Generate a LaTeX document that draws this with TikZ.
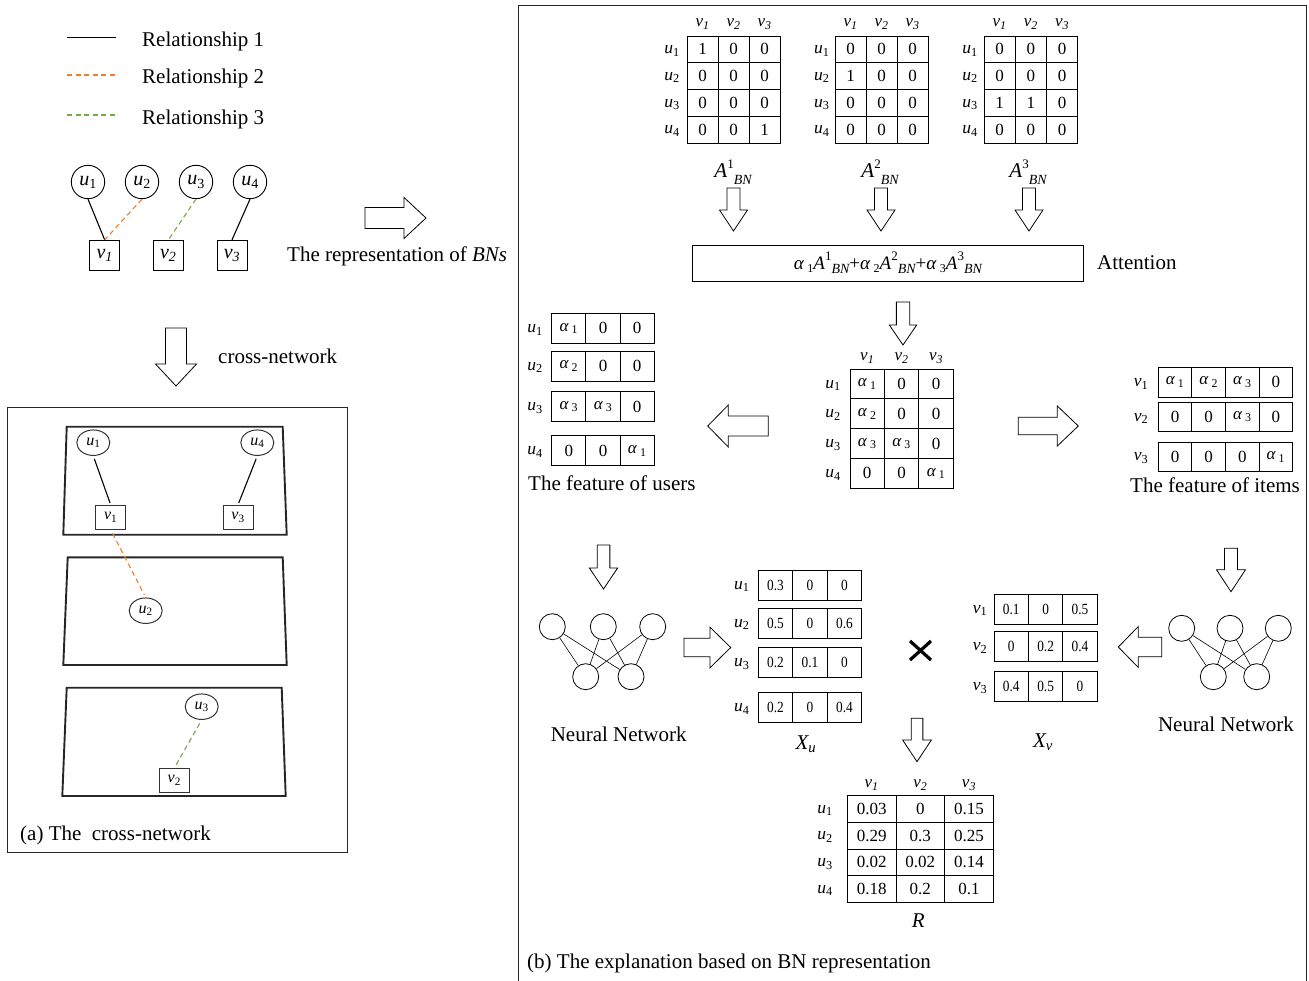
\documentclass[tikz,border=0pt]{standalone}
\usepackage{fontspec}
\setmainfont{Liberation Serif}
\newfontfamily\narrowrm[FakeStretch=0.86]{Liberation Serif}
\usetikzlibrary{shapes.geometric}

\definecolor{relorange}{HTML}{ED7D31}
\definecolor{relgreen}{HTML}{70AD47}

\newcommand{\fs}[1]{\fontsize{#1}{#1}\selectfont}
\newcommand{\ulab}[1]{\textit{u}\textsubscript{#1}}
\newcommand{\vlab}[1]{\textit{v}\textsubscript{#1}}
\newcommand{\vlabit}[1]{\textit{v\textsubscript{#1}}}
\newcommand{\al}[1]{\textit{α}\,\textsubscript{#1}}
\newcommand{\Abn}[1]{\textit{A}\raisebox{0.45em}{\fs{13}#1}\raisebox{-0.3em}{\fs{14}\itshape BN}}
\newcommand{\aterm}[1]{\textit{α}\,\raisebox{-0.2em}{\fs{12}#1}\textit{A}\raisebox{0.45em}{\fs{13}#1}\raisebox{-0.25em}{\fs{14}\itshape BN}}

% block arrow: tail x, tail y, angle, length, shaft width, head width, head length
\newcommand{\blockarrow}[7]{%
  \draw[blockarrow, shift={(#1,#2)}, rotate=#3]
    (0,{-#5/2}) -- ({#4-#7},{-#5/2}) -- ({#4-#7},{-#6/2}) -- (#4,0)
    -- ({#4-#7},{#6/2}) -- ({#4-#7},{#5/2}) -- (0,{#5/2}) -- cycle;}

% grid of cells: name, x0, y0, cell width, cell height, font, rows
\newcommand{\gridmat}[7]{%
  \foreach \rowlist [count=\ri] in {#7} {
    \foreach \val [count=\ci] in \rowlist {
      \node[cell, font=#6, minimum width=#4, minimum height=#5]
        (#1-\ri-\ci) at ({#2+(\ci-0.5)*#4},{#3+(\ri-0.5)*#5}) {\val};
    }
  }}
% one row of cells: name, x0, top y, cell width, cell height, font, entries
\newcommand{\featrow}[7]{%
  \foreach \val [count=\ci] in {#7}
    \node[cell, font=#6, minimum width=#4, minimum height=#5]
      (#1-\ci) at ({#2+(\ci-0.5)*#4},{#3+#5/2}) {\val};}
% column headers: name, x0, cell width, y, label command
\newcommand{\collabels}[5]{%
  \foreach \k in {1,2,3} \node[hdr] (#1-h\k) at ({#2+(\k-0.5)*#3},#4) {#5{\k}};}
% row labels: name, x, y0, cell height, count, label command
\newcommand{\rowlabels}[6]{%
  \foreach \k in {1,...,#5} \node[rowlab] (#1-r\k) at (#2,{#3+(\k-0.5)*#4+1.5}) {#6{\k}};}

\begin{document}
\begin{tikzpicture}[x=1pt,y=-1pt,
  lbl/.style={font=\fs{21}, inner sep=0},
  cell/.style={draw, line width=0.9pt, inner sep=0, anchor=center},
  hdr/.style={font=\fs{17}, inner sep=0},
  rowlab/.style={font=\fs{17.5}, inner sep=0},
  blockarrow/.style={draw, line width=0.8pt, fill=white, line join=miter},
  nn/.style={draw, circle, minimum size=26, inner sep=0, line width=0.8pt},
  ucirc/.style={draw, circle, minimum size=33.4, inner sep=0, line width=0.9pt, font=\fs{20}},
  vsq/.style={draw, rectangle, minimum size=30, inner sep=0, line width=0.9pt, font=\fs{20}},
  uell/.style={draw, ellipse, minimum width=33, minimum height=25.5, inner sep=0, line width=1pt, black!80, text=black, font=\fs{16}},
  vbox/.style={draw, rectangle, minimum width=30, minimum height=24, inner sep=0, line width=1pt, black!80, text=black, font=\fs{16}},
  panel/.style={line width=1.9pt, black!85},
  rel1/.style={line width=1.3pt},
  rel2/.style={relorange, line width=1.3pt, dash pattern=on 5pt off 3.5pt},
  rel3/.style={relgreen, line width=1.3pt, dash pattern=on 5pt off 3.5pt}]
\useasboundingbox (0,0) rectangle (1309,981);

% ---------------- legend ----------------
\coordinate (lg1a) at (67,37.5);  \coordinate (lg1b) at (116,37.5);
\coordinate (lg2a) at (67,75);    \coordinate (lg2b) at (116,75);
\coordinate (lg3a) at (67,115);   \coordinate (lg3b) at (116,115);
\draw[rel1] (lg1a) -- (lg1b);
\draw[rel2] (lg2a) -- (lg2b);
\draw[rel3] (lg3a) -- (lg3b);
\node[lbl, anchor=base west] (lgt1) at (142,47) {Relationship 1};
\node[lbl, anchor=base west] (lgt2) at (142,84) {Relationship 2};
\node[lbl, anchor=base west] (lgt3) at (142,125) {Relationship 3};

% ---------------- bipartite network ----------------
\node[ucirc] (gu1) at (88,182)  {\ulab{1}};
\node[ucirc] (gu2) at (142,182) {\ulab{2}};
\node[ucirc] (gu3) at (196,182) {\ulab{3}};
\node[ucirc] (gu4) at (250,182) {\ulab{4}};
\node[vsq] (gv1) at (104.7,255.3) {\vlabit{1}};
\node[vsq] (gv2) at (168.3,255.3) {\vlabit{2}};
\node[vsq] (gv3) at (232,255.3)   {\vlabit{3}};
\draw[rel1, line width=1.1pt] (gu1.south) -- (gv1.north);
\draw[rel2, line width=1.1pt] (gu2.south) -- (gv1.north);
\draw[rel3, line width=1.1pt] (gu3.south) -- (gv2.north);
\draw[rel1, line width=1.1pt] (gu4.south) -- (gv3.north);

\blockarrow{365}{218}{0}{61}{21}{41}{22}
\node[lbl, anchor=base west] (reptext) at (287,262) {The representation of \textit{BNs}};

\blockarrow{176}{328}{-90}{58}{21}{41}{22}
\node[lbl, anchor=base west] (crosstext) at (218,364) {cross-network};

% ---------------- (a) cross-network ----------------
\draw[line width=0.9pt, black!85] (7.3,407.3) rectangle (347.7,852.7);
\draw[panel] (66.7,426.7) -- (282.7,426.7) -- (286.7,534.7) -- (63.3,534.7) -- cycle;
\draw[panel] (67.7,557.3) -- (282.7,557.3) -- (286.7,665) -- (63.3,665) -- cycle;
\draw[panel] (66.7,687.7) -- (281.7,687.7) -- (285.7,796) -- (62.3,796) -- cycle;
\node[uell] (cu1) at (93.3,442.7)  {\ulab{1}};
\node[uell] (cu4) at (257.3,442.7) {\ulab{4}};
\node[vbox] (cv1) at (110.7,517.3) {\vlab{1}};
\node[vbox] (cv3) at (238,517.3)   {\vlab{3}};
\node[uell] (cu2) at (145.7,610.7) {\ulab{2}};
\node[uell] (cu3) at (201.7,706.7) {\ulab{3}};
\node[vbox] (cv2) at (174.3,780.5) {\vlab{2}};
\draw[rel1, line width=1.1pt, shorten <=3pt, shorten >=2pt] (cu1.south) -- (cv1.north);
\draw[rel1, line width=1.1pt, shorten <=3pt, shorten >=2pt] (cu4.south) -- (cv3.north);
\draw[rel2, line width=1.1pt, shorten <=4pt, shorten >=3pt] (cv1.south) -- (cu2.north);
\draw[rel3, line width=1.1pt, shorten <=4pt, shorten >=1pt] (cu3.south) -- (cv2.north);
\node[lbl, anchor=base west] (capa) at (20,840) {(a) The\ \ cross-network};

% ---------------- (b) explanation ----------------
\draw[line width=0.9pt, black!85] (518.3,995) -- (518.3,5) -- (1306.7,5) -- (1306.7,995);

% three relation matrices
\gridmat{ma}{687}{36}{31}{26.75}{\fs{17}}{{1,0,0},{0,0,0},{0,0,0},{0,0,1}}
\gridmat{mb}{835}{36}{31}{26.75}{\fs{17}}{{0,0,0},{1,0,0},{0,0,0},{0,0,0}}
\gridmat{mc}{984}{36}{31.2}{26.75}{\fs{17}}{{0,0,0},{0,0,0},{1,1,0},{0,0,0}}
\collabels{ma}{687}{31}{24}{\vlabit}
\collabels{mb}{835}{31}{24}{\vlabit}
\collabels{mc}{984}{31.2}{24}{\vlabit}
\rowlabels{ma}{672}{36}{26.75}{4}{\ulab}
\rowlabels{mb}{821.7}{36}{26.75}{4}{\ulab}
\rowlabels{mc}{970}{36}{26.75}{4}{\ulab}

\node[font=\fs{21}, inner sep=0] (aa) at (733,172) {\Abn{1}};
\node[font=\fs{21}, inner sep=0] (ab) at (880,172) {\Abn{2}};
\node[font=\fs{21}, inner sep=0] (ac) at (1028,172) {\Abn{3}};
\blockarrow{733.5}{188}{-90}{43}{13}{28}{21}
\blockarrow{881}{188}{-90}{43}{13}{28}{21}
\blockarrow{1029}{188}{-90}{43}{13}{28}{21}

\node[draw, line width=0.9pt, minimum width=390.3, minimum height=36, inner sep=0, font=\fs{19}]
  (attbox) at (887.9,263) {\aterm{1}+\aterm{2}+\aterm{3}};
\node[lbl, anchor=base west] (atttext) at (1097,270) {Attention};

\blockarrow{903}{302}{-90}{43}{13.3}{27.4}{20}

% fused matrix
\gridmat{mf}{850}{369}{34.4}{29.8}{\fs{17}}{{\al{1},0,0},{\al{2},0,0},{\al{3},\al{3},0},{0,0,\al{1}}}
\collabels{mf}{850}{34.4}{358}{\vlabit}
\rowlabels{mf}{833}{369}{29.8}{4}{\ulab}

% user features
\featrow{fu1}{551.7}{313.3}{34.2}{30}{\fs{17}}{\al{1},0,0}
\featrow{fu2}{551.7}{351}{34.2}{30}{\fs{17}}{\al{2},0,0}
\featrow{fu3}{551.7}{391.7}{34.2}{30}{\fs{17}}{\al{3},\al{3},0}
\featrow{fu4}{551.7}{435.7}{34.2}{30}{\fs{17}}{0,0,\al{1}}
\foreach \k/\yy in {1/329.8,2/367.5,3/408.2,4/452.2}
  \node[rowlab] (fu-r\k) at (535,\yy) {\ulab{\k}};
\blockarrow{768.3}{426}{180}{60.6}{20}{42}{20.6}
\node[lbl, anchor=base west] (fusertext) at (528,490) {The feature of users};

% item features
\blockarrow{1018.3}{426}{0}{60}{17.4}{40}{21}
\featrow{fv1}{1158.3}{367.5}{33.6}{29.5}{\fs{17}}{\al{1},\al{2},\al{3},0}
\featrow{fv2}{1158.3}{402}{33.6}{29.5}{\fs{17}}{0,0,\al{3},0}
\featrow{fv3}{1158.3}{442}{33.6}{29.5}{\fs{17}}{0,0,0,\al{1}}
\foreach \k/\yy in {1/383.8,2/418.3,3/458.3}
  \node[rowlab] (fv-r\k) at (1141,\yy) {\vlab{\k}};
\node[lbl, anchor=base west] (fitemtext) at (1130,492) {The feature of items};

% neural network for users
\blockarrow{603.5}{545}{-90}{44}{12.7}{28.3}{21}
\node[nn] (na1) at (552.3,626.7) {};
\node[nn] (na2) at (603.3,626.7) {};
\node[nn] (na3) at (652.7,626.7) {};
\node[nn] (nb1) at (585.7,676.7) {};
\node[nn] (nb2) at (631,676.7) {};
\foreach \a in {na1,na2,na3} \foreach \b in {nb1,nb2} \draw[line width=0.6pt] (\a) -- (\b);
\node[lbl, anchor=base] (nntext1) at (618.7,741.7) {Neural Network};
\blockarrow{684}{647.5}{0}{46.7}{18.4}{40.6}{20.7}

% user embeddings
\featrow{xu1}{758.3}{570}{34.5}{30}{\narrowrm\fs{15.5}}{0.3,0,0}
\featrow{xu2}{758.3}{608}{34.5}{30}{\narrowrm\fs{15.5}}{0.5,0,0.6}
\featrow{xu3}{758.3}{647.7}{34.5}{30}{\narrowrm\fs{15.5}}{0.2,0.1,0}
\featrow{xu4}{758.3}{692.3}{34.5}{30}{\narrowrm\fs{15.5}}{0.2,0,0.4}
\foreach \k/\yy in {1/586.5,2/624.5,3/664.2,4/708.8}
  \node[rowlab] (xu-r\k) at (741.7,\yy) {\ulab{\k}};
\node[font=\fs{21}, inner sep=0] (xulab) at (806,744) {\textit{X\textsubscript{u}}};

% product sign
\draw[line width=3.2pt] (910,641) -- (931,660) (910,660) -- (931,641);

% item embeddings
\featrow{xv1}{994}{594}{34.4}{30}{\narrowrm\fs{15.5}}{0.1,0,0.5}
\featrow{xv2}{994}{631.7}{34.4}{30}{\narrowrm\fs{15.5}}{0,0.2,0.4}
\featrow{xv3}{994}{671.7}{34.4}{30}{\narrowrm\fs{15.5}}{0.4,0.5,0}
\foreach \k/\yy in {1/610.5,2/648.2,3/688.2}
  \node[rowlab] (xv-r\k) at (980,\yy) {\vlab{\k}};
\node[font=\fs{21}, inner sep=0] (xvlab) at (1043,742) {\textit{X\textsubscript{v}}};

% neural network for items
\blockarrow{1231}{548.3}{-90}{43.4}{13}{29}{22}
\node[nn] (nc1) at (1181.7,628.3) {};
\node[nn] (nc2) at (1230,628.3) {};
\node[nn] (nc3) at (1278.3,628.3) {};
\node[nn] (nd1) at (1213.3,676.7) {};
\node[nn] (nd2) at (1256.7,676.7) {};
\foreach \a in {nc1,nc2,nc3} \foreach \b in {nd1,nd2} \draw[line width=0.6pt] (\a) -- (\b);
\node[lbl, anchor=base] (nntext2) at (1226,731.7) {Neural Network};
\blockarrow{1161.7}{647}{180}{43.4}{19.4}{41}{20}

% predicted ratings
\blockarrow{917}{718.3}{-90}{43.4}{11.7}{28.7}{21.7}
\gridmat{mr}{847.3}{795.7}{48.67}{26.65}{\fs{17}}{{0.03,0,0.15},{0.29,0.3,0.25},{0.02,0.02,0.14},{0.18,0.2,0.1}}
\collabels{mr}{847.3}{48.67}{785}{\vlabit}
\rowlabels{mr}{825}{795.7}{26.65}{4}{\ulab}
\node[font=\fs{21}, inner sep=0] (rlab) at (918.3,921) {\textit{R}};

\node[lbl, anchor=base west] (capb) at (527,968) {(b) The explanation based on BN representation};
\end{tikzpicture}
\end{document}
